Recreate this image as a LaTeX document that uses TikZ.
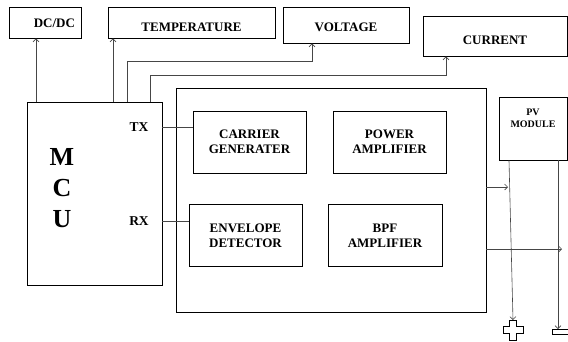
\documentclass[tikz,border=0pt]{standalone}
\usepackage{fontspec}
\setmainfont{Liberation Serif}
\usetikzlibrary{positioning,calc,arrows.meta}
\definecolor{wiregray}{RGB}{70,70,70}

\begin{document}
\begin{tikzpicture}[
    x=1pt, y=-1pt,
    >={Straight Barb[length=3pt,width=6pt]},
    box/.style={rectangle, draw, line width=0.9pt, inner sep=0pt, align=center, font=\bfseries\fontsize{13}{15}\selectfont},
    sensor/.style={box, minimum height=31pt, text depth=0pt},
    block/.style={box, minimum width=113pt, minimum height=62pt},
    wire/.style={draw=wiregray, line width=0.6pt},
    pin/.style={font=\bfseries\fontsize{13.5}{15}\selectfont}
]
    \useasboundingbox (0,0) rectangle (568,341);

    % Sensors and converter
    \node[sensor, minimum width=72pt, text height=9pt, text width=60pt, align=right] (dcdc) at (45,22.5) {DC/DC};
    \node[sensor, minimum width=167pt, text height=17.5pt] (temp) at (191.5,22.5) {TEMPERATURE};
    \node[sensor, minimum width=126pt, minimum height=36pt, text height=13.5pt] (volt) at (346,25) {VOLTAGE};
    \node[sensor, minimum width=144pt, minimum height=40pt, text height=17.5pt] (curr) at (495,36) {CURRENT};

    % MCU
    \node[box, minimum width=135pt, minimum height=183pt] (mcu) at (94.5,193.5) {};
    \node[font=\bfseries\fontsize{26}{31}\selectfont, align=center] (mculabel) at (62,188) {M\\C\\U};
    \node[pin] (tx) at (139,127) {TX};
    \node[pin] (rx) at (139,221) {RX};

    % Modem
    \node[box, minimum width=310pt, minimum height=224pt] (modem) at (331,200) {};
    \node[block] (carrier) at (249.5,142) {CARRIER\\GENERATER};
    \node[block] (poweramp) at (389.5,142) {POWER\\AMPLIFIER};
    \node[block] (envelope) at (245.5,235.5) {ENVELOPE\\DETECTOR};
    \node[block, minimum width=114pt] (bpf) at (385,235.5) {BPF\\AMPLIFIER};

    % PV module
    \node[box, minimum width=68pt, minimum height=63pt] (pv) at (533,128.5) {};
    \node[font=\bfseries\fontsize{10}{12}\selectfont, align=center, inner sep=0pt, below=12pt of pv.north] (pvlabel) {PV\\MODULE};

    % MCU outputs
    \coordinate (p1) at (36,102);
    \coordinate (p2) at (113,102);
    \coordinate (p3) at (127,102);
    \coordinate (p4) at (150,102);
    \coordinate (vbend) at (312,61);
    \coordinate (cbend) at (446,75);
    \draw[wire, ->] (p1) -- (p1 |- dcdc.south);
    \draw[wire, ->] (p2) -- (p2 |- temp.south);
    \draw[wire, ->] (p3) |- (vbend) -- (vbend |- volt.south);
    \draw[wire, ->] (p4) |- (cbend) -- (cbend |- curr.south);

    % TX / RX
    \draw[wire] (tx.east -| mcu.east) -- (tx.east -| carrier.west);
    \draw[wire] (rx.east -| mcu.east) -- (rx.east -| envelope.west);

    % Modem to PV lines
    \coordinate (o1) at (508,187);
    \coordinate (o2) at (562,249);
    \draw[wire, ->] (modem.east |- o1) -- (o1);
    \draw[wire, ->] (modem.east |- o2) -- (o2);

    % Terminals
    \coordinate (plus) at (513,320);
    \coordinate (minus) at (558,329);
    \draw[wire, ->] (pv.south -| 509,0) -- (plus);
    \draw[wire, ->] (pv.south -| minus) -- (minus);
    \draw[line width=0.9pt] (509.5,320) -- (516.5,320) -- (516.5,326.5) -- (523,326.5) -- (523,333.5) -- (516.5,333.5) -- (516.5,340) -- (509.5,340) -- (509.5,333.5) -- (503,333.5) -- (503,326.5) -- (509.5,326.5) -- cycle;
    \draw[line width=0.9pt] (552,329.5) rectangle (568,334);
\end{tikzpicture}
\end{document}
